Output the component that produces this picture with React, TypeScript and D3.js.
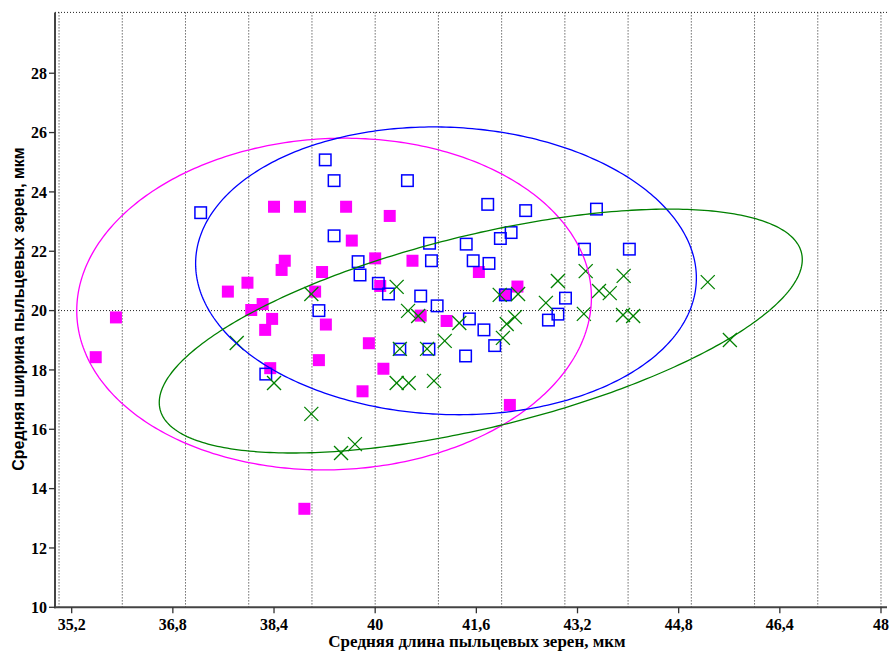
import React from "react";
import * as d3 from "d3";

// Series 1 (magenta filled squares)
const magentaX = [35.58, 35.90, 37.67, 37.98, 38.04, 38.22, 38.26, 38.37, 38.34, 38.40, 38.52, 38.57, 38.81, 39.05, 39.11, 39.16, 39.22, 39.54, 39.63, 39.90, 40.00, 40.08, 40.13, 39.80, 40.23, 40.59, 40.72, 41.13, 38.88, 41.64, 42.05, 42.13, 42.25];
const magentaY = [18.43, 19.77, 20.64, 20.94, 20.02, 20.22, 19.35, 19.72, 18.06, 23.50, 21.37, 21.68, 23.50, 20.64, 18.33, 21.30, 19.53, 23.50, 22.36, 18.90, 21.76, 20.83, 18.04, 17.28, 23.19, 21.68, 19.83, 19.65, 13.32, 21.30, 20.53, 16.82, 20.81];

// Series 2 (blue open squares)
const blueX = [37.24, 38.27, 39.21, 39.35, 39.35, 39.73, 39.76, 39.11, 40.05, 40.21, 40.39, 40.51, 40.72, 40.86, 40.89, 40.98, 40.85, 41.44, 41.49, 41.55, 41.43, 41.72, 41.78, 41.80, 41.89, 41.98, 42.06, 42.15, 42.38, 42.74, 42.89, 43.01, 43.31, 43.50, 44.02];
const blueY = [23.30, 17.86, 25.08, 24.38, 22.52, 21.65, 21.20, 20.00, 20.92, 20.56, 18.70, 24.38, 20.49, 22.27, 21.68, 20.16, 18.70, 22.24, 19.72, 21.68, 18.47, 19.35, 23.58, 21.59, 18.82, 22.43, 20.53, 22.63, 23.37, 19.68, 19.88, 20.42, 22.07, 23.42, 22.07];

// Series 3 (green crosses)
const greenX = [37.81, 38.40, 38.99, 38.99, 39.46, 39.68, 40.34, 40.52, 40.68, 40.39, 40.34, 40.53, 40.82, 40.93, 41.10, 41.33, 41.97, 42.26, 42.21, 42.08, 42.02, 42.70, 42.89, 43.33, 43.54, 43.71, 43.93, 43.30, 43.92, 44.08, 45.26, 45.61];
const greenY = [18.91, 17.56, 20.56, 16.52, 15.20, 15.50, 20.80, 19.99, 19.82, 18.71, 17.56, 17.56, 18.71, 17.63, 18.98, 19.58, 20.53, 20.56, 19.78, 19.55, 19.08, 20.26, 21.00, 21.33, 20.66, 20.59, 21.17, 19.89, 19.85, 19.82, 20.96, 19.01];

// Confidence ellipses (magenta, blue, green)
const ellipseCX = [39.35, 41.12, 41.67];
const ellipseCY = [20.22, 21.34, 19.31];
const ellipseRX = [4.07, 3.96, 5.085];
const ellipseRY = [5.59, 4.85, 4.11];
const ellipseCorr = [0.04, -0.05, 0.586];

// Axes
const xTicks = [35.2, 36.8, 38.4, 40, 41.6, 43.2, 44.8, 46.4, 48];
const xTickLabels = ["35,2", "36,8", "38,4", "40", "41,6", "43,2", "44,8", "46,4", "48"];
const yTicks = [10, 12, 14, 16, 18, 20, 22, 24, 26, 28];
const xGrid = [35, 36, 37, 38, 39, 40, 41, 42, 43, 44, 45, 46, 47, 48];
const yGrid = [20];

const xTitle = "Средняя длина пыльцевых зерен, мкм";
const yTitle = "Средняя ширина пыльцевых зерен, мкм";

const W = 893;
const H = 653;
const left = 55;
const right = 887;
const top = 12.4;
const bottom = 607.3;

const MAGENTA = "#ff00ff";
const BLUE = "#0000ff";
const GREEN = "#008000";

export default function App() {
  const x = d3.scaleLinear().domain([34.936, 48.095]).range([left, right]);
  const y = d3.scaleLinear().domain([10, 30.05]).range([bottom, top]);

  const ellipseColors = [MAGENTA, BLUE, GREEN];
  const ts = d3.range(0, 361).map((d) => (d * Math.PI) / 180);

  const ellipsePaths = ellipseCX.map((cx, k) => {
    const phi = Math.acos(ellipseCorr[k]);
    const gen = d3
      .line<number>()
      .x((t) => x(cx + ellipseRX[k] * Math.cos(t)))
      .y((t) => y(ellipseCY[k] + ellipseRY[k] * Math.cos(t - phi)));
    return gen(ts) as string;
  });

  const sq = 12;
  const bsq = 11.5;
  const cr = 7;

  return (
    <svg
      width={W}
      height={H}
      style={{ position: "absolute", left: 0, top: 0, background: "#fff" }}
    >
      <rect x={0} y={0} width={W} height={H} fill="#fff" />
      {/* grid */}
      <g stroke="#222" strokeWidth={1} strokeDasharray="1,2">
        {xGrid.map((v) => (
          <line key={"gx" + v} x1={x(v)} x2={x(v)} y1={top} y2={bottom} />
        ))}
        {yGrid.map((v) => (
          <line key={"gy" + v} x1={left} x2={right} y1={y(v)} y2={y(v)} />
        ))}
        <line x1={left} x2={right} y1={top} y2={top} />
      </g>

      {/* magenta squares */}
      <g fill={MAGENTA}>
        {magentaX.map((v, i) => (
          <rect key={"m" + i} x={x(v) - sq / 2} y={y(magentaY[i]) - sq / 2} width={sq} height={sq} />
        ))}
      </g>
      {/* blue open squares */}
      <g fill="none" stroke={BLUE} strokeWidth={1.5}>
        {blueX.map((v, i) => (
          <rect key={"b" + i} x={x(v) - bsq / 2} y={y(blueY[i]) - bsq / 2} width={bsq} height={bsq} />
        ))}
      </g>
      {/* green crosses */}
      <g stroke={GREEN} strokeWidth={1.3}>
        {greenX.map((v, i) => {
          const cx = x(v);
          const cy = y(greenY[i]);
          return (
            <g key={"g" + i}>
              <line x1={cx - cr} y1={cy - cr} x2={cx + cr} y2={cy + cr} />
              <line x1={cx - cr} y1={cy + cr} x2={cx + cr} y2={cy - cr} />
            </g>
          );
        })}
      </g>

      {/* ellipses */}
      {ellipsePaths.map((p, k) => (
        <path key={"e" + k} d={p} fill="none" stroke={ellipseColors[k]} strokeWidth={1.3} />
      ))}

      {/* axes */}
      <g stroke="#444" strokeWidth={2}>
        <line x1={left} x2={left} y1={top} y2={bottom + 1} />
        <line x1={left - 1} x2={right} y1={bottom} y2={bottom} />
      </g>
      <g stroke="#333" strokeWidth={1.3}>
        {yTicks.map((v) => (
          <line key={"ty" + v} x1={left - 6} x2={left} y1={y(v)} y2={y(v)} />
        ))}
        {xTicks.map((v) => (
          <line key={"tx" + v} x1={x(v)} x2={x(v)} y1={bottom} y2={bottom + 6} />
        ))}
      </g>
      <g fontFamily="'Liberation Serif', 'Times New Roman', serif" fontWeight="bold" fontSize={16} fill="#000">
        {yTicks.map((v) => (
          <text key={"ly" + v} x={left - 8} y={y(v)} dy="0.35em" textAnchor="end">
            {String(v)}
          </text>
        ))}
        {xTicks.map((v, i) => (
          <text key={"lx" + v} x={x(v)} y={630} textAnchor="middle">
            {xTickLabels[i]}
          </text>
        ))}
        <text x={477} y={647} textAnchor="middle" fontSize={17}>
          {xTitle}
        </text>
      </g>
      <text
        transform={`translate(24, 309) rotate(-90)`}
        textAnchor="middle"
        fontFamily="'Liberation Sans', Arial, sans-serif"
        fontWeight="bold"
        fontSize={16}
        fill="#000"
      >
        {yTitle}
      </text>
    </svg>
  );
}
